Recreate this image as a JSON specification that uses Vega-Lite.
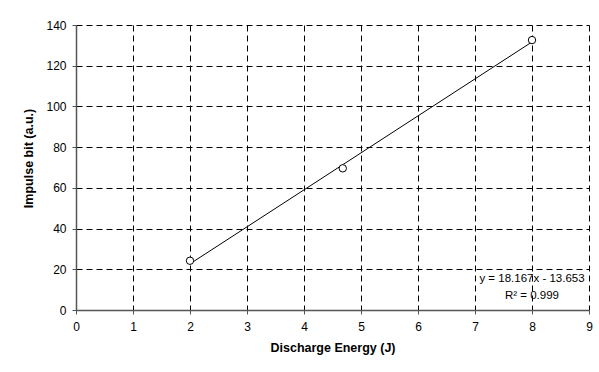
{
  "$schema": "https://vega.github.io/schema/vega-lite/v6.json",
  "width": 513,
  "height": 285,
  "autosize": {"type": "none"},
  "padding": {"left": 76, "top": 25, "right": 10, "bottom": 62},
  "background": "white",
  "config": {
    "view": {"stroke": null},
    "font": "Liberation Sans",
    "axis": {
      "labelFont": "Liberation Sans",
      "labelFontSize": 12,
      "labelColor": "black",
      "titleFont": "Liberation Sans",
      "titleFontSize": 12.5,
      "titleFontWeight": "bold",
      "titleColor": "black",
      "domainColor": "#555555",
      "domainWidth": 1.5,
      "tickColor": "#555555",
      "tickSize": 4,
      "gridColor": "black",
      "gridDash": [6, 4],
      "gridWidth": 1,
      "gridOpacity": 1
    }
  },
  "datasets": {
    "points": [
      {"energy": 2, "impulse": 24.2},
      {"energy": 4.68, "impulse": 69.6},
      {"energy": 8, "impulse": 132.6}
    ],
    "trend": [
      {"energy": 2, "impulse": 22.681},
      {"energy": 8, "impulse": 131.683}
    ],
    "labels": [
      {"energy": 8, "impulse": 15.0, "text": "y = 18.167x - 13.653"},
      {"energy": 8, "impulse": 6.7, "text": "R² = 0.999"}
    ]
  },
  "layer": [
    {
      "data": {"name": "trend"},
      "mark": {"type": "line", "color": "black", "strokeWidth": 1},
      "encoding": {
        "x": {
          "field": "energy", "type": "quantitative",
          "scale": {"domain": [0, 9], "nice": false},
          "axis": {"values": [0,1,2,3,4,5,6,7,8,9], "format": "d", "title": "Discharge Energy (J)", "labelPadding": 7, "titlePadding": 9, "labelFlush": false}
        },
        "y": {
          "field": "impulse", "type": "quantitative",
          "scale": {"domain": [0, 140], "nice": false},
          "axis": {"values": [0,20,40,60,80,100,120,140], "format": "d", "title": "Impulse bit (a.u.)", "labelPadding": 6, "titlePadding": 10, "titleY": 133, "labelFlush": false}
        }
      }
    },
    {
      "data": {"name": "points"},
      "mark": {"type": "point", "shape": "circle", "filled": true, "fill": "white", "stroke": "black", "strokeWidth": 1, "size": 55, "opacity": 1},
      "encoding": {
        "x": {"field": "energy", "type": "quantitative"},
        "y": {"field": "impulse", "type": "quantitative"}
      }
    },
    {
      "data": {"name": "labels"},
      "mark": {"type": "text", "align": "center", "baseline": "middle", "fontSize": 11.5, "font": "Liberation Sans", "color": "black"},
      "encoding": {
        "x": {"field": "energy", "type": "quantitative"},
        "y": {"field": "impulse", "type": "quantitative"},
        "text": {"field": "text"}
      }
    }
  ]
}
